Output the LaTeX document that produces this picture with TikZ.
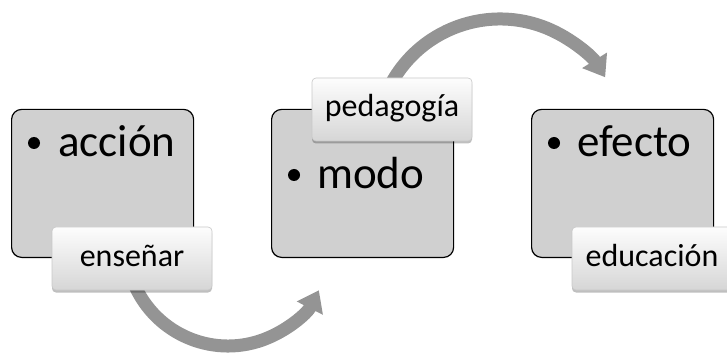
\documentclass[tikz,border=0pt]{standalone}
\usepackage{fontspec}
\setmainfont{Carlito}
\usetikzlibrary{arrows.meta,shadows}
\definecolor{boxfill}{RGB}{208,208,208}
\definecolor{arrowgray}{RGB}{148,148,148}
\definecolor{tagtop}{RGB}{253,253,253}
\definecolor{tagbot}{RGB}{214,214,214}
\definecolor{tagline}{RGB}{200,200,200}
\begin{document}
\begin{tikzpicture}[x=1pt,y=1pt,
  bigbox/.style={draw=black, line width=1.2pt, fill=boxfill, rounded corners=10pt,
    minimum width=182pt, minimum height=148pt, inner sep=0pt, anchor=south west},
  tag/.style={draw=tagline, line width=0.6pt, top color=tagtop, bottom color=tagbot,
    rounded corners=4pt, minimum width=160pt, minimum height=63pt, inner sep=0pt,
    font=\fontsize{32}{38}\selectfont, text height=15pt, text depth=0pt,
    drop shadow={shadow xshift=0pt, shadow yshift=-2.5pt, opacity=0.25, fill=black}},
  item/.style={anchor=base west, inner sep=0pt, font=\fontsize{45}{54}\selectfont},
  dot/.style={circle, fill=black, inner sep=0pt, minimum size=12pt},
  flow/.style={line width=13pt, draw=arrowgray, -{Triangle[width=28pt,length=20pt]}}
]
\useasboundingbox (0,0) rectangle (727,356);
\clip (0,0) rectangle (727,356);

% three main boxes
\node[bigbox] (b1) at (11,98) {};
\node[bigbox] (b2) at (271,98) {};
\node[bigbox] (b3) at (531,98) {};

% bulleted items
\node[dot] (d1) at (34,213) {};
\node[item] (t1) at (58,199.5) {acción};
\node[dot] (d2) at (294,181) {};
\node[item] (t2) at (317,167) {modo};
\node[dot] (d3) at (554,213) {};
\node[item] (t3) at (577,199.5) {efecto};

% tag positions and arc centres
\path (132,97.5) coordinate (enspos) (392,246.5) coordinate (pedpos) (652,97.5) coordinate (edupos);
\coordinate (c1) at ([shift={(96,14.5)}]enspos);
\coordinate (c2) at ([shift={(108,-33.5)}]pedpos);

% curved flow arrows
\draw[flow] ([shift={(200:102)}]c1) arc[start angle=200, end angle=333, radius=102];
\draw[flow] ([shift={(155:124)}]c2) arc[start angle=155, end angle=32, radius=124];

% tags on top
\node[tag] (ens) at (enspos) {enseñar};
\node[tag] (ped) at (pedpos) {pedagogía};
\node[tag] (edu) at (edupos) {educación};
\end{tikzpicture}
\end{document}
